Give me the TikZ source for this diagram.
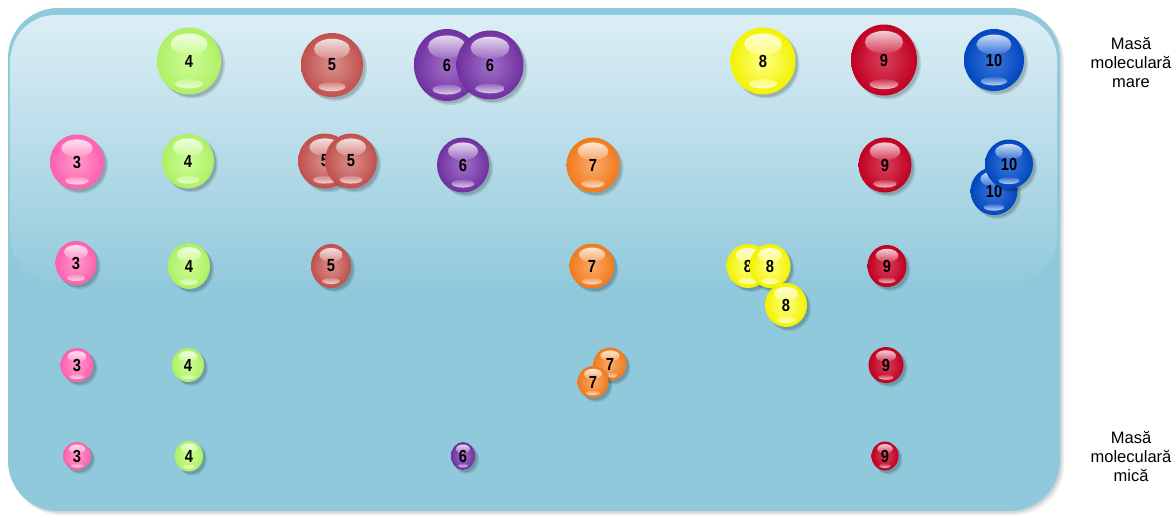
\documentclass[tikz,border=0pt]{standalone}
\usepackage{fontspec}
\setmainfont{Liberation Sans}
\newfontfamily\numfont[FakeStretch=0.84]{Liberation Sans}
\definecolor{panelbase}{HTML}{8FC9DB}
\definecolor{glosstop}{HTML}{DCEEF5}
\definecolor{glossbot}{HTML}{93CADC}
% ball colours: centre (c) and edge (e)
\definecolor{pinkc}{HTML}{FF9ACB}\definecolor{pinke}{HTML}{FF5FAE}
\definecolor{greenc}{HTML}{CDFD96}\definecolor{greene}{HTML}{AEF065}
\definecolor{brownc}{HTML}{DA908D}\definecolor{browne}{HTML}{C0504D}
\definecolor{purplec}{HTML}{A070C8}\definecolor{purplee}{HTML}{7030A0}
\definecolor{orangec}{HTML}{FAAA6C}\definecolor{orangee}{HTML}{F07A1A}
\definecolor{yellowc}{HTML}{FFFF85}\definecolor{yellowe}{HTML}{F2F200}
\definecolor{redc}{HTML}{D8405C}\definecolor{rede}{HTML}{C00020}
\definecolor{bluec}{HTML}{3C78DC}\definecolor{bluee}{HTML}{0046BE}
\tikzset{
  numlabel/.style={inner sep=0pt, font=\numfont\bfseries\fontsize{17.5}{17.5}\selectfont},
  sidelabel/.style={align=center, inner sep=0pt, font=\fontsize{16.5}{19}\selectfont}
}
% #1 name, #2 cx, #3 cy, #4 width, #5 height, #6 colour prefix, #7 label
\newcommand\mball[7]{%
  \fill[black, opacity=0.10] (#2+3.5,#3+3.5) ellipse [x radius=#4/2+0.5, y radius=#5/2+0.5];
  \fill[black, opacity=0.14] (#2+2.5,#3+2.5) ellipse [x radius=#4/2, y radius=#5/2];
  \shade[inner color=#6c, outer color=#6e] (#2,#3) ellipse [x radius=#4/2, y radius=#5/2];
  \shade[top color=white, bottom color=#6c, opacity=0.8]
    (#2,#3-0.25*#5) ellipse [x radius=0.29*#4, y radius=0.16*#5];
  \shade[top color=#6c, bottom color=white, opacity=0.75]
    (#2,#3+0.34*#5) ellipse [x radius=0.22*#4, y radius=0.07*#5];
  \node[numlabel] (#1) at (#2,#3) {#7};
}
\begin{document}
\begin{tikzpicture}[x=1pt,y=-1pt]
\useasboundingbox (0,0) rectangle (1175,515);
% panel
\fill[black, opacity=0.07, rounded corners=50pt] (11,11) rectangle (1064,515);
\fill[black, opacity=0.10, rounded corners=50pt] (10,10) rectangle (1062,513);
\fill[panelbase, rounded corners=50pt] (8,8) rectangle (1060,511);
\shade[top color=glosstop, bottom color=glossbot, rounded corners=45pt] (10.5,15) rectangle (1057,282);
% row 1
\mball{b4a}{189}{61}{64}{67}{green}{4}
\mball{b5a}{332}{65}{62}{64}{brown}{5}
\mball{b6a}{447}{65}{66}{72}{purple}{6}
\mball{b6b}{490}{65}{67}{69}{purple}{6}
\mball{b8a}{763}{61}{65}{67}{yellow}{8}
\mball{b9a}{884}{60}{66}{71}{red}{9}
\mball{b10a}{994}{60}{60}{62}{blue}{10}
% row 2
\mball{b3a}{77}{162}{54}{55}{pink}{3}
\mball{b4b}{188}{161}{52}{55}{green}{4}
\mball{b5b}{325}{161}{54}{55}{brown}{5}
\mball{b5c}{351}{161}{52}{55}{brown}{5}
\mball{b6c}{463}{165}{52}{55}{purple}{6}
\mball{b7a}{593}{165}{53}{55}{orange}{7}
\mball{b9b}{885}{165}{53}{55}{red}{9}
\mball{b10b}{994}{191}{47}{48}{blue}{10}
\mball{b10c}{1009}{164}{48}{49}{blue}{10}
% row 3
\mball{b3b}{76}{263}{41}{44}{pink}{3}
\mball{b4c}{189}{266}{42}{46}{green}{4}
\mball{b5d}{331}{266}{40}{44}{brown}{5}
\mball{b7b}{592}{266}{45}{45}{orange}{7}
\mball{b8b}{748}{266}{43}{44}{yellow}{8}
\mball{b8c}{770}{266}{41}{44}{yellow}{8}
\mball{b8d}{786}{305}{42}{44}{yellow}{8}
\mball{b9c}{887}{266}{39}{42}{red}{9}
% row 4
\mball{b3c}{77}{365}{33}{34}{pink}{3}
\mball{b4d}{188}{365}{32}{34}{green}{4}
\mball{b7c}{610}{364}{33}{33}{orange}{7}
\mball{b7d}{593}{382}{31}{32}{orange}{7}
\mball{b9d}{886}{365}{35}{36}{red}{9}
% row 5
\mball{b3d}{77}{456}{28}{28}{pink}{3}
\mball{b4e}{189}{456}{28}{31}{green}{4}
\mball{b6d}{463}{456}{24}{28}{purple}{6}
\mball{b9e}{885}{456}{27}{29}{red}{9}
% side labels
\node[sidelabel] (high) at (1131,62) {Masă\\moleculară\\mare};
\node[sidelabel] (low) at (1131,456) {Masă\\moleculară\\mică};
\end{tikzpicture}
\end{document}
